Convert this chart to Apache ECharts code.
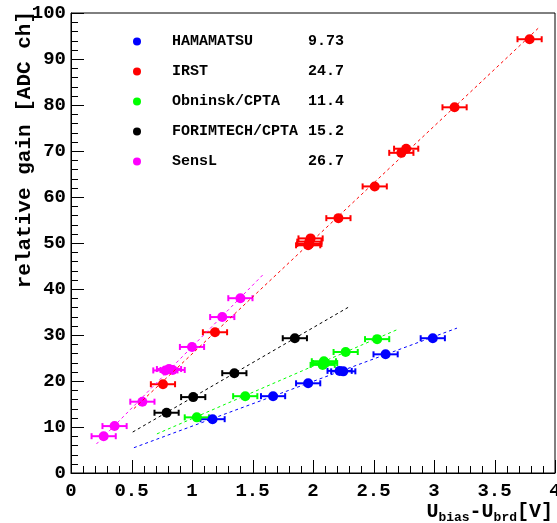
<!DOCTYPE html>
<html>
<head>
<meta charset="utf-8">
<script src="https://cdn.jsdelivr.net/npm/echarts@6/dist/echarts.min.js"></script>
<style>
  html, body { margin: 0; padding: 0; background: #fff; }
  #chart { width: 557px; height: 523px; }
</style>
</head>
<body>
<div id="chart"></div>
<script>
// measured points: U_bias - U_brd [V] and relative gain [ADC ch]
const names = ['HAMAMATSU', 'IRST', 'Obninsk/CPTA', 'FORIMTECH/CPTA', 'SensL']
const slopes = ['9.73', '24.7', '11.4', '15.2', '26.7']
const colors = ['#0000ff', '#ff0000', '#00ff00', '#000000', '#ff00ff']

const hamU = [1.17, 1.67, 1.96, 2.22, 2.25, 2.60, 2.99]
const hamV = [11.7, 16.7, 19.5, 22.2, 22.1, 25.8, 29.3]

const irstU = [0.76, 1.19, 1.96, 1.97, 1.98, 1.97, 2.21, 2.51, 2.73, 2.77, 3.17, 3.79]
const irstV = [19.3, 30.6, 49.5, 50.3, 51.0, 49.8, 55.4, 62.3, 69.6, 70.5, 79.5, 94.3]

const obnU = [1.04, 1.44, 2.08, 2.09, 2.10, 2.27, 2.53]
const obnV = [12.1, 16.7, 23.5, 24.3, 23.9, 26.3, 29.1]

const forU = [0.79, 1.01, 1.35, 1.85]
const forV = [13.1, 16.5, 21.7, 29.3]

const senU = [0.27, 0.36, 0.59, 0.78, 0.81, 0.84, 1.00, 1.25, 1.40]
const senV = [8.0, 10.2, 15.5, 22.3, 22.6, 22.4, 27.4, 33.9, 38.0]

// dashed linear fits, start and end points
const fitHam = [[0.52, 5.5], [3.19, 31.5]]
const fitIrst = [[0.52, 14.0], [3.87, 96.9]]
const fitObn = [[0.71, 8.5], [2.69, 31.1]]
const fitFor = [[0.51, 8.9], [2.29, 36.0]]
const fitSen = [[0.21, 6.3], [1.59, 43.2]]

const errU = 0.1

// axis ticks (major) and the number of minor divisions between them
const xTicks = [0, 0.5, 1, 1.5, 2, 2.5, 3, 3.5, 4]
const yTicks = [0, 10, 20, 30, 40, 50, 60, 70, 80, 90, 100]
const minorDiv = 5

const allU = [hamU, irstU, obnU, forU, senU]
const allV = [hamV, irstV, obnV, forV, senV]
const fits = [fitHam, fitIrst, fitObn, fitFor, fitSen]

const font = 'Liberation Mono'

const chart = echarts.init(document.getElementById('chart'))

// horizontal error bars with caps
const errorBars = (params, api) => {
  const u = api.value(0)
  const v = api.value(1)
  const l = api.coord([u - errU, v])
  const r = api.coord([u + errU, v])
  const color = api.visual('color')
  const style = { stroke: color, lineWidth: 2 }
  return {
    type: 'group',
    children: [
      { type: 'line', shape: { x1: l[0], y1: l[1], x2: r[0], y2: r[1] }, style },
      { type: 'line', shape: { x1: l[0], y1: l[1] - 3, x2: l[0], y2: l[1] + 3 }, style },
      { type: 'line', shape: { x1: r[0], y1: r[1] - 3, x2: r[0], y2: r[1] + 3 }, style }
    ]
  }
}

// inward ROOT-style ticks on the bottom and left axes, placed through the axis scales
const tickMarks = (params, api) => {
  const children = []
  const style = { stroke: '#000', lineWidth: 1 }
  const addX = (u, len) => {
    const p = api.coord([u, 0])
    const x = Math.round(p[0]) + 0.5
    children.push({ type: 'line', shape: { x1: x, y1: p[1], x2: x, y2: p[1] - len }, style })
  }
  const addY = (v, len) => {
    const p = api.coord([0, v])
    const y = Math.round(p[1]) + 0.5
    children.push({ type: 'line', shape: { x1: p[0], y1: y, x2: p[0] + len, y2: y }, style })
  }
  xTicks.forEach((u, i) => {
    addX(u, 13)
    if (i < xTicks.length - 1) {
      const step = (xTicks[i + 1] - u) / minorDiv
      for (let k = 1; k < minorDiv; k++) addX(u + k * step, 7)
    }
  })
  yTicks.forEach((v, i) => {
    addY(v, 13)
    if (i < yTicks.length - 1) {
      const step = (yTicks[i + 1] - v) / minorDiv
      for (let k = 1; k < minorDiv; k++) addY(v + k * step, 7)
    }
  })
  return { type: 'group', children }
}

// fits first, then error bars, then markers on top
const fitSeries = []
const errSeries = []
const ptSeries = []
names.forEach((name, i) => {
  const pts = allU[i].map((u, k) => [u, allV[i][k]])
  fitSeries.push({
    name: name + ' fit',
    type: 'line',
    data: fits[i],
    symbol: 'none',
    silent: true,
    lineStyle: { color: colors[i], width: 1, type: [3, 3] }
  })
  errSeries.push({
    name: name + ' err',
    type: 'custom',
    renderItem: errorBars,
    data: pts,
    itemStyle: { color: colors[i] }
  })
  ptSeries.push({
    name: name,
    type: 'scatter',
    data: pts,
    symbolSize: 10,
    itemStyle: { color: colors[i], opacity: 1 }
  })
})

const tickSeries = {
  name: 'ticks',
  type: 'custom',
  renderItem: tickMarks,
  data: [[0, 0]],
  silent: true,
  clip: false
}

const black = { color: '#000', width: 1 }
const bigLabel = { fontFamily: font, fontWeight: 'bold', fontSize: 19, color: '#000' }

const option = {
  animation: false,
  grid: {
    left: 71, right: 2, top: 13, bottom: 50,
    outerBoundsMode: 'none',
    show: true, borderColor: '#000', borderWidth: 1
  },
  legend: {
    data: names,
    orient: 'vertical',
    left: 128,
    top: 29,
    itemGap: 15,
    itemWidth: 8,
    itemHeight: 8,
    icon: 'circle',
    formatter: name => '{n|' + name + '}{v|' + slopes[names.indexOf(name)] + '}',
    textStyle: {
      fontFamily: font,
      fontWeight: 'bold',
      fontSize: 15,
      color: '#000',
      padding: [0, 0, 0, 26],
      rich: {
        n: { width: 136, fontFamily: font, fontWeight: 'bold', fontSize: 15, lineHeight: 14 },
        v: { fontFamily: font, fontWeight: 'bold', fontSize: 15, lineHeight: 14 }
      }
    }
  },
  xAxis: {
    type: 'value',
    position: 'bottom',
    min: 0,
    max: 4,
    interval: 0.5,
    name: 'U{s|bias}-U{s|brd}[V]',
    nameLocation: 'end',
    nameGap: -2,
    nameTextStyle: {
      align: 'right',
      verticalAlign: 'top',
      padding: [26, 0, 0, 0],
      fontFamily: font,
      fontWeight: 'bold',
      fontSize: 20,
      color: '#000',
      rich: {
        s: { fontFamily: font, fontWeight: 'bold', fontSize: 13, padding: [12, 0, 0, 0], color: '#000' }
      }
    },
    axisLine: { show: true, onZero: false, lineStyle: black },
    axisTick: { show: false },
    splitLine: { show: false },
    axisLabel: Object.assign({ margin: 9, showMaxLabel: true }, bigLabel)
  },
  yAxis: {
    type: 'value',
    position: 'left',
    min: 0,
    max: 100,
    interval: 10,
    axisLine: { show: true, onZero: false, lineStyle: black },
    axisTick: { show: false },
    splitLine: { show: false },
    axisLabel: Object.assign({ margin: 5 }, bigLabel)
  },
  graphic: [
    {
      type: 'text',
      x: 25,
      y: 11,
      rotation: Math.PI / 2,
      style: {
        text: 'relative gain [ADC ch]',
        fontFamily: font,
        fontWeight: 'bold',
        fontSize: 21,
        fill: '#000',
        align: 'right',
        verticalAlign: 'middle'
      }
    }
  ],
  series: [tickSeries].concat(fitSeries, errSeries, ptSeries)
}

chart.setOption(option)
</script>
</body>
</html>
